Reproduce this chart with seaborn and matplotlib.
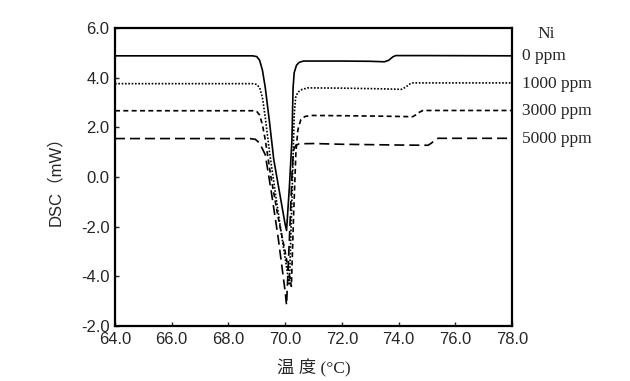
import pandas as pd
import seaborn as sns
import matplotlib.pyplot as plt

# DSC curves (temperature in degC, heat flow in mW)
series_names = ["0 ppm", "1000 ppm", "3000 ppm", "5000 ppm"]

temp_0 = [64.0, 68.85, 69.0, 69.1, 69.2, 69.3, 69.45, 69.6, 69.8, 70.0, 70.05,
          70.15, 70.24, 70.28, 70.32, 70.4, 70.5, 70.65, 72.0, 73.0, 73.5,
          73.65, 73.8, 73.9, 75.0, 78.0]
dsc_0 = [4.88, 4.88, 4.85, 4.7, 4.3, 3.6, 2.2, 0.7, -0.6, -1.9, -2.15,
         -0.4, 1.5, 3.6, 4.2, 4.5, 4.62, 4.67, 4.67, 4.66, 4.64,
         4.7, 4.84, 4.89, 4.89, 4.88]

temp_1000 = [64.0, 68.85, 69.0, 69.1, 69.2, 69.3, 69.45, 69.7, 69.95, 70.15,
             70.25, 70.32, 70.37, 70.45, 70.6, 70.8, 72.0, 73.5, 74.1,
             74.25, 74.4, 74.5, 78.0]
dsc_1000 = [3.76, 3.76, 3.73, 3.6, 3.2, 2.4, 1.0, -1.0, -2.9, -4.35,
            -0.5, 2.5, 3.2, 3.42, 3.53, 3.59, 3.58, 3.55, 3.53,
            3.62, 3.75, 3.79, 3.79]

temp_3000 = [64.0, 68.85, 69.0, 69.1, 69.2, 69.3, 69.5, 69.75, 70.0, 70.22,
             70.3, 70.38, 70.45, 70.55, 70.7, 70.95, 72.0, 73.5, 74.5, 74.6,
             74.75, 74.86, 78.0]
dsc_3000 = [2.67, 2.67, 2.64, 2.5, 2.1, 1.5, 0.0, -1.6, -3.0, -4.4,
            -1.5, 1.0, 1.9, 2.3, 2.44, 2.48, 2.47, 2.45, 2.43, 2.5,
            2.62, 2.68, 2.68]

temp_5000 = [64.0, 68.75, 68.95, 69.05, 69.15, 69.3, 69.5, 69.75, 70.0, 70.05,
             70.15, 70.25, 70.3, 70.38, 70.5, 71.0, 72.0, 74.0, 75.04,
             75.15, 75.3, 75.39, 78.0]
dsc_5000 = [1.55, 1.55, 1.52, 1.42, 1.25, 0.9, -0.5, -2.4, -4.6, -5.15,
            -2.5, 0.3, 1.1, 1.28, 1.34, 1.35, 1.32, 1.29, 1.28,
            1.36, 1.5, 1.56, 1.56]

x_ticks = [64, 66, 68, 70, 72, 74, 76, 78]
x_tick_labels = ["64.0", "66.0", "68.0", "70.0", "72.0", "74.0", "76.0", "78.0"]
y_ticks = [6, 4, 2, 0, -2, -4, -6]
y_tick_labels = ["6.0", "4.0", "2.0", "0.0", "-2.0", "-4.0", "-2.0"]

# Build one long frame for seaborn
frames = []
for name, t, d in zip(series_names,
                      [temp_0, temp_1000, temp_3000, temp_5000],
                      [dsc_0, dsc_1000, dsc_3000, dsc_5000]):
    frames.append(pd.DataFrame({"temp": t, "dsc": d, "ni": name}))
df = pd.concat(frames, ignore_index=True)

sns.set_theme(style="ticks")
plt.rcParams["font.family"] = ["Liberation Sans", "Noto Sans CJK SC", "DejaVu Sans"]

fig = plt.figure(figsize=(6.3, 3.81), dpi=100)
ax = fig.add_axes([0.1825, 0.144, 0.6302, 0.7825])

dash_map = {"0 ppm": "", "1000 ppm": (1, 1), "3000 ppm": (3, 2), "5000 ppm": (6, 3)}
sns.lineplot(data=df, x="temp", y="dsc", style="ni", dashes=dash_map,
             color="black", linewidth=1.2, sort=False, estimator=None,
             legend=False, ax=ax)

ax.set_xlim(64, 78)
ax.set_ylim(-6, 6)
ax.set_xticks(x_ticks)
ax.set_xticklabels(x_tick_labels)
ax.set_yticks(y_ticks)
ax.set_yticklabels(y_tick_labels)
ax.tick_params(direction="in", length=3, width=1, labelsize=12, pad=4)

for side in ["left", "right", "top", "bottom"]:
    ax.spines[side].set_visible(True)
    ax.spines[side].set_linewidth(1.6)
    ax.spines[side].set_color("black")

ax.set_xlabel("温 度 (°C)", fontsize=12.5, labelpad=9,
              family=["Liberation Serif", "Noto Sans CJK SC"])
ax.set_ylabel("DSC（mW）", fontsize=12, labelpad=13,
              family=["Liberation Sans", "Noto Sans CJK SC"])

# Series labels on the right, serif like the original
serif = ["Liberation Serif", "DejaVu Serif"]
ax.text(78.88, 5.76, "Ni", fontsize=12.5, family=serif, ha="left",
        va="center", clip_on=False)
for name, d in zip(series_names, [dsc_0, dsc_1000, dsc_3000, dsc_5000]):
    ax.text(78.35, d[0], name, fontsize=12.5, family=serif, ha="left",
            va="center", clip_on=False)

fig.savefig("out.png", dpi=100)
